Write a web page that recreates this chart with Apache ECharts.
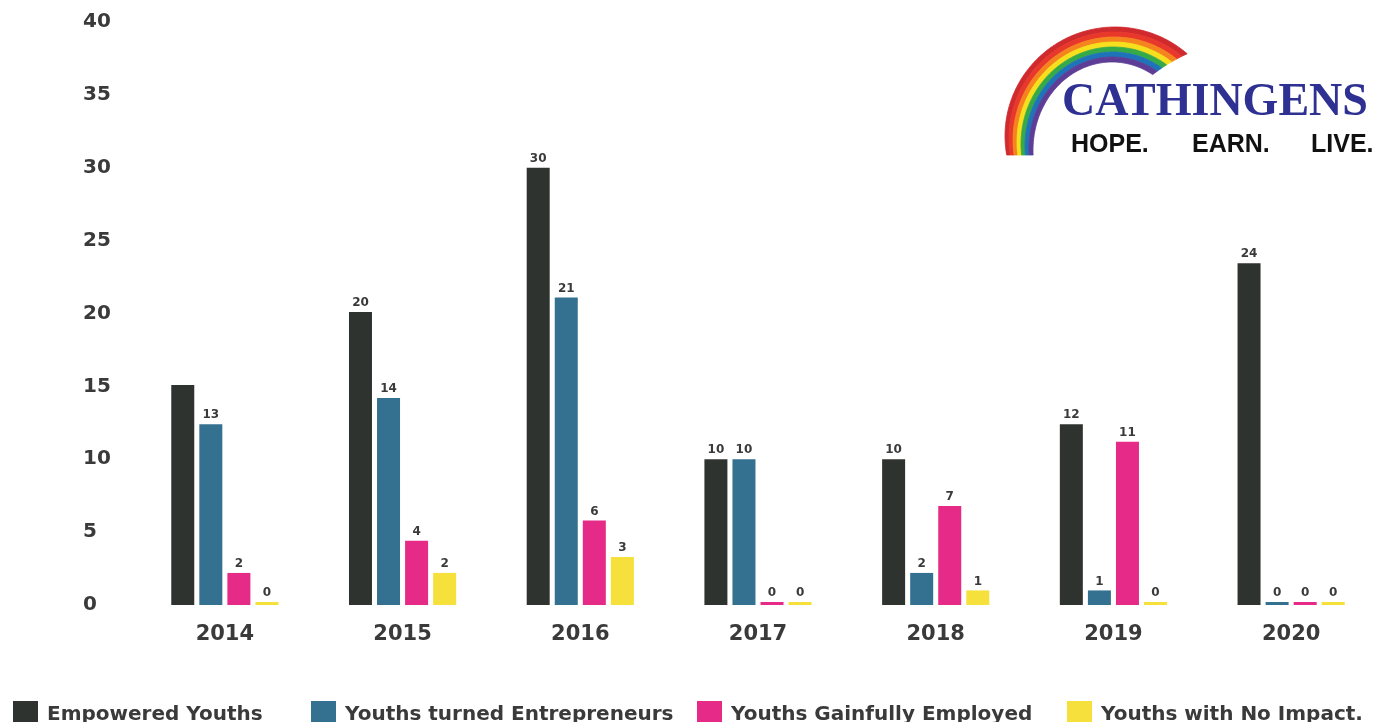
<!DOCTYPE html>
<html><head><meta charset="utf-8">
<script src="https://cdn.jsdelivr.net/npm/echarts@6/dist/echarts.min.js"></script>
<style>html,body{margin:0;padding:0;background:#fff}#c{width:1381px;height:722px}</style>
</head><body><div id="c"></div>
<script>
// ---- data ----
const years = ['2014', '2015', '2016', '2017', '2018', '2019', '2020'];
const seriesNames = ['Empowered Youths', 'Youths turned Entrepreneurs', 'Youths Gainfully Employed', 'Youths with No Impact.'];
// bar heights as drawn in the picture
const empowered     = [15.1, 20.1, 30.0, 10.0, 10.0, 12.4, 23.45];
const entrepreneurs = [12.4, 14.2, 21.1, 10.0, 2.2, 1.0, 0];
const employed      = [2.2, 4.4, 5.8, 0, 6.8, 11.2, 0];
const noImpact      = [0, 2.2, 3.3, 0, 1.0, 0, 0];
// value labels as printed on the bars
const empoweredLabels     = ['', '20', '30', '10', '10', '12', '24'];
const entrepreneursLabels = ['13', '14', '21', '10', '2', '1', '0'];
const employedLabels      = ['2', '4', '6', '0', '7', '11', '0'];
const noImpactLabels      = ['0', '2', '3', '0', '1', '0', '0'];
const yMin = 0, yMax = 40, yStep = 5;

const colors = ['#2f3330', '#34708f', '#e62a87', '#f5e03c'];
const FONT = "'DejaVu Sans', sans-serif";
const values = [empowered, entrepreneurs, employed, noImpact];
const labels = [empoweredLabels, entrepreneursLabels, employedLabels, noImpactLabels];

const chart = echarts.init(document.getElementById('c'), null, {renderer: 'canvas'});

// ---- logo (decoration) ----
const rainbow = ['#cf2a2e', '#e8372b', '#f5841f', '#f6df1d', '#36a949', '#1f73b9', '#5d3d96'];
const OUT = {cx: 1115, cy: 136, rx: 110, ry: 109, a1: 311};
const INN = {cx: 1112, cy: 150, rx: 79, ry: 88, a1: 301};
function boundary(k) {
  const t = k / 7;
  const lerp = (p, q) => p + (q - p) * t;
  const cx = lerp(OUT.cx, INN.cx), cy = lerp(OUT.cy, INN.cy);
  const rx = lerp(OUT.rx, INN.rx), ry = lerp(OUT.ry, INN.ry);
  const a0 = Math.PI - Math.asin(Math.min(1, (155 - cy) / ry));
  const a1 = lerp(OUT.a1, INN.a1) * Math.PI / 180;
  const pts = [];
  const n = 70;
  for (let i = 0; i <= n; i++) {
    const a = a0 + (a1 - a0) * i / n;
    pts.push([cx + rx * Math.cos(a), cy + ry * Math.sin(a)]);
  }
  return pts;
}
const logo = [];
for (let k = 0; k < 7; k++) {
  const outer = boundary(k), inner = boundary(k + 1).reverse();
  logo.push({type: 'polygon', shape: {points: outer.concat(inner)},
    style: {fill: rainbow[k], stroke: rainbow[k], lineWidth: 0.8}, z: 10});
}
logo.push({type: 'text', left: 1062, top: 80, z: 11,
  style: {text: 'CATHINGENS', font: "bold 46px 'Liberation Serif', 'Times New Roman', serif", fill: '#2e3192'}});
const tag = [['HOPE.', 1071], ['EARN.', 1192], ['LIVE.', 1311]];
tag.forEach(([t, x]) => logo.push({type: 'text', left: x, top: 133, z: 11,
  style: {text: t, font: "bold 25px 'Liberation Sans', Arial, sans-serif", fill: '#111'}}));

const legendLeft = [8, 306, 692, 1062];

chart.setOption({
  backgroundColor: '#ffffff',
  animation: false,
  grid: {left: 136, right: 1, top: 22, bottom: 117},
  legend: seriesNames.map((n, i) => ({
    data: [n], left: legendLeft[i], top: 696, icon: 'rect', itemWidth: 25, itemHeight: 28,
    textStyle: {fontFamily: FONT, fontWeight: 'bold', fontSize: 20, color: '#3a3a3a', padding: [0, 0, 0, 4]},
    selectedMode: false
  })),
  xAxis: {
    type: 'category', data: years,
    axisLine: {show: false}, axisTick: {show: false},
    axisLabel: {fontFamily: FONT, fontWeight: 'bold', fontSize: 21, color: '#3a3a3a', margin: 19}
  },
  yAxis: {
    type: 'value', min: yMin, max: yMax, interval: yStep,
    axisLine: {show: false}, axisTick: {show: false}, splitLine: {show: false},
    axisLabel: {fontFamily: FONT, fontWeight: 'bold', fontSize: 20, color: '#3a3a3a', align: 'left', margin: 53}
  },
  series: seriesNames.map((n, i) => ({
    name: n, type: 'bar', data: values[i], barWidth: 23, barGap: '22%', barMinHeight: 3,
    itemStyle: {color: colors[i]},
    label: {show: true, position: 'top', distance: 3, fontFamily: FONT, fontWeight: 'bold', fontSize: 12, color: '#3a3a3a',
      formatter: p => labels[i][p.dataIndex]}
  })),
  graphic: logo
});
</script></body></html>
